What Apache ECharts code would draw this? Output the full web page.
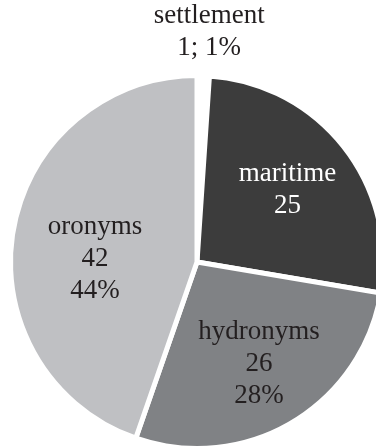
<!DOCTYPE html>
<html>
<head>
<meta charset="utf-8">
<script src="https://cdn.jsdelivr.net/npm/echarts@6/dist/echarts.min.js"></script>
<style>
html,body{margin:0;padding:0;background:#fff;}
#chart{width:376px;height:448px;}
</style>
</head>
<body>
<div id="chart"></div>
<script>
// Data
const categories = ['settlement', 'maritime', 'hydronyms', 'oronyms'];
const values = [1, 25, 26, 42];
const percentLabels = ['1%', '', '28%', '44%'];

// Styles
const sliceColors = ['#ffffff', '#3c3c3c', '#808285', '#bfc0c3'];
const labelColors = ['#231f20', '#ffffff', '#231f20', '#231f20'];
const labelShift = [[9, -134], [15, -12], [13, 19], [-7, 13]];

function labelText(i) {
  if (i === 0) return categories[i] + '\n' + values[i] + '; ' + percentLabels[i];
  if (!percentLabels[i]) return categories[i] + '\n' + values[i];
  return categories[i] + '\n' + values[i] + '\n' + percentLabels[i];
}

const chart = echarts.init(document.getElementById('chart'), null, {renderer: 'canvas'});
chart.setOption({
  animation: false,
  backgroundColor: '#ffffff',
  series: [{
    type: 'pie',
    center: [197, 262],
    radius: [0, 186.5],
    startAngle: 90,
    clockwise: true,
    avoidLabelOverlap: false,
    silent: true,
    itemStyle: {borderColor: '#ffffff', borderWidth: 5},
    label: {
      show: true,
      position: 'inside',
      fontFamily: '"Liberation Serif", "Times New Roman", serif',
      fontSize: 27,
      lineHeight: 32,
      formatter: function (p) { return labelText(p.dataIndex); }
    },
    labelLine: {show: false},
    labelLayout: function (p) {
      const s = labelShift[p.dataIndex];
      return {dx: s[0], dy: s[1]};
    },
    data: categories.map(function (c, i) {
      return {
        name: c,
        value: values[i],
        itemStyle: {color: sliceColors[i]},
        label: {color: labelColors[i]}
      };
    })
  }]
});
</script>
</body>
</html>
